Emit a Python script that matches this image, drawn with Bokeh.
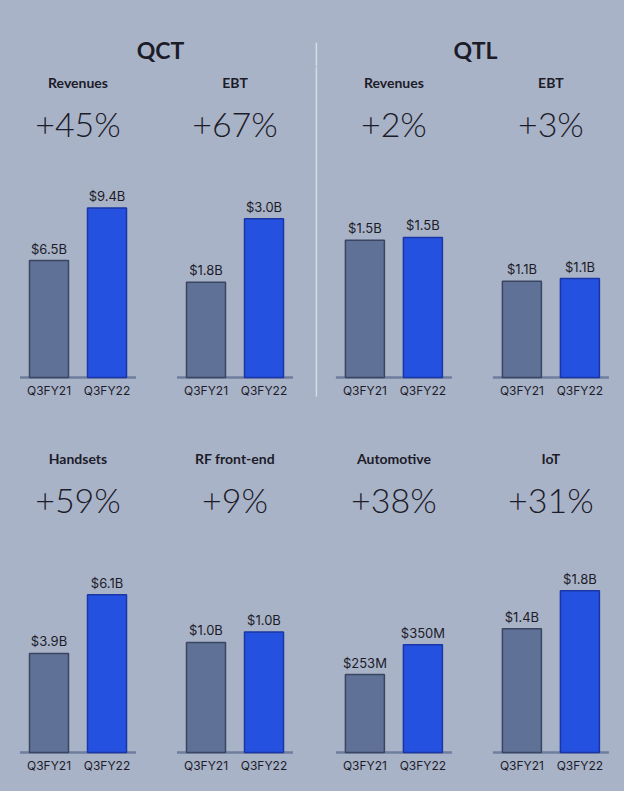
from bokeh.plotting import figure
from bokeh.layouts import column, row
from bokeh.models import Range1d, ColumnDataSource
from bokeh.core.properties import value
from bokeh.embed import file_html
from bokeh.resources import INLINE

# ---------------- data ----------------
periods = ["Q3FY21", "Q3FY22"]
segments = ["QCT", "QTL"]
panel_titles = ["Revenues", "EBT", "Revenues", "EBT",
                "Handsets", "RF front-end", "Automotive", "IoT"]
growth = ["+45%", "+67%", "+2%", "+3%", "+59%", "+9%", "+38%", "+31%"]
q3fy21_values = [6.47, 1.80, 1.47, 1.09, 3.86, 0.95, 253, 1.40]
q3fy22_values = [9.38, 3.00, 1.50, 1.12, 6.15, 1.04, 350, 1.83]
q3fy21_labels = ["$6.5B", "$1.8B", "$1.5B", "$1.1B", "$3.9B", "$1.0B", "$253M", "$1.4B"]
q3fy22_labels = ["$9.4B", "$3.0B", "$1.5B", "$1.1B", "$6.1B", "$1.0B", "$350M", "$1.8B"]

# ---------------- style / layout ----------------
BG = "#a9b3c8"
TXT = "#1c1c28"
BAR_COLORS = ["#5f7196", "#2451df"]
BAR_EDGES = ["#3a4661", "#1a36a6"]
BASE_COLOR = "#6f7e9e"
DIV_COLOR = "#d5dbe7"

STEP = 58.0            # px between the two bar centres
BAR_W = 39 / STEP      # bar width in category units
FIG_W = [156, 156, 160, 152]
LEFT = [19.5, 20.5, 23.4, 20.4]   # px from figure left to baseline start
HDR_H = 66
ROW_H = [376, 349]
ABOVE = [311, 310]                # px from figure top to baseline
TALL_PX = [169.5, 158.8, 140.1, 99, 157.8, 120.5, 107.8, 161.7]  # taller bar, px
TITLE_DY = 16
PCT_DY = 57

TITLE_FONT = value("Lato")
PCT_FONT = value("Lato Light")
NUM_FONT = value("Inter")


def style(p):
    p.background_fill_color = BG
    p.border_fill_color = BG
    p.outline_line_color = None
    p.min_border_left = p.min_border_right = 0
    p.min_border_top = p.min_border_bottom = 0
    p.xgrid.visible = False
    p.ygrid.visible = False


def make_panel(k, r, c):
    w, h = FIG_W[c], ROW_H[r]
    scale = TALL_PX[k] / max(q3fy21_values[k], q3fy22_values[k])
    x0 = -0.5 - LEFT[c] / STEP
    x1 = x0 + w / STEP
    y1 = ABOVE[r] / scale
    y0 = -(h - ABOVE[r]) / scale
    p = figure(width=w, height=h, x_range=Range1d(x0, x1), y_range=Range1d(y0, y1),
               x_axis_type=None, y_axis_type=None, toolbar_location=None,
               output_backend="svg")
    style(p)

    xs = list(range(len(periods)))
    src = ColumnDataSource(dict(
        x=xs, top=[q3fy21_values[k], q3fy22_values[k]],
        fill=BAR_COLORS, edge=BAR_EDGES,
        label=[q3fy21_labels[k], q3fy22_labels[k]], period=periods))

    p.segment(x0=[xs[0] - 0.5], x1=[xs[-1] + 0.5], y0=[0], y1=[0],
              line_color=BASE_COLOR, line_width=2.5)
    p.vbar(x="x", top="top", bottom=0, width=BAR_W, fill_color="fill",
           line_color="edge", line_width=1.5, source=src)
    p.text(x="x", y="top", text="label", source=src, y_offset=-4,
           text_align="center", text_baseline="bottom", text_color=TXT,
           text_font=NUM_FONT, text_font_size="13px")
    p.text(x="x", y=0, text="period", source=src, y_offset=13,
           text_align="center", text_baseline="middle", text_color=TXT,
           text_font=NUM_FONT, text_font_size="12px")

    mid = (xs[0] + xs[-1]) / 2
    p.text(x=[mid], y=[y1], text=[panel_titles[k]], y_offset=TITLE_DY,
           text_align="center", text_baseline="middle", text_color=TXT,
           text_font=TITLE_FONT, text_font_style="bold", text_font_size="14px")
    p.text(x=[mid], y=[y1], text=[growth[k]], y_offset=PCT_DY,
           text_align="center", text_baseline="middle", text_color=TXT,
           text_font=PCT_FONT, text_font_size="34px")

    if r == 0 and c == 2:   # divider between QCT and QTL
        xd = x0 + 3.9 / STEP
        p.segment(x0=[xd], x1=[xd], y0=[-19 / scale], y1=[y1],
                  line_color=DIV_COLOR, line_width=1.5)
    return p


# header
W = sum(FIG_W)
hdr = figure(width=W, height=HDR_H, x_range=Range1d(0, W),
             y_range=Range1d(0, HDR_H), x_axis_type=None, y_axis_type=None,
             toolbar_location=None, output_backend="svg")
style(hdr)
hdr.text(x=[160, 475], y=[17, 17], text=segments, text_align="center",
         text_baseline="middle", text_color=TXT, text_font=TITLE_FONT,
         text_font_style="bold", text_font_size="23px")
hdr.segment(x0=[315.9], x1=[315.9], y0=[0], y1=[24], line_color=DIV_COLOR,
            line_width=1.5)

rows = []
for r in range(2):
    rows.append(row([make_panel(r * 4 + c, r, c) for c in range(4)], spacing=0))

p = column([hdr] + rows, spacing=0)
p.styles = {"background-color": BG}

open("out.html", "w").write(file_html(p, INLINE))
